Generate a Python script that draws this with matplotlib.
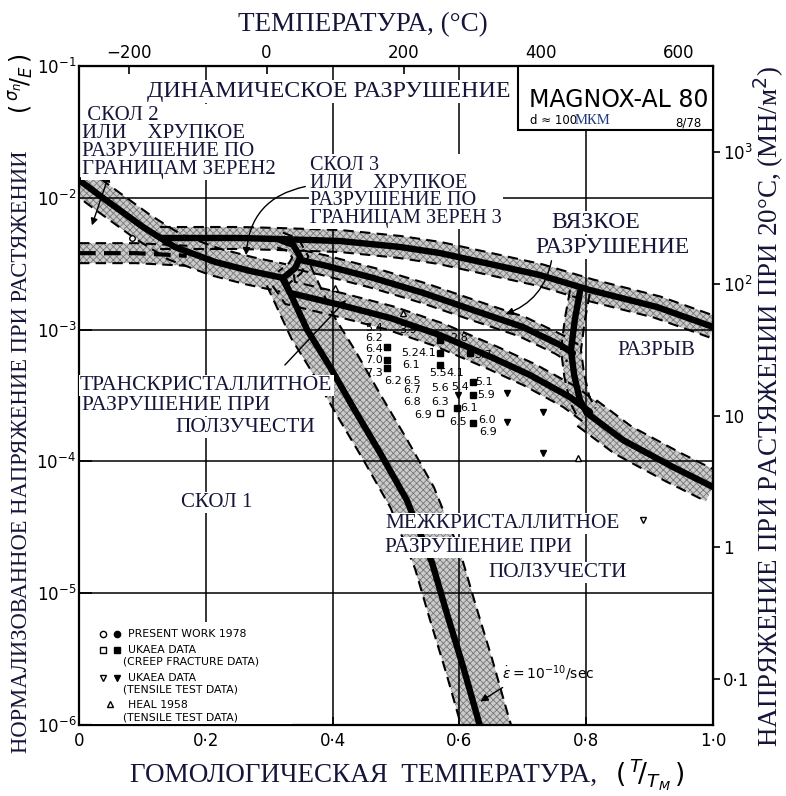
import numpy as np
import matplotlib.pyplot as plt
from matplotlib.patches import Rectangle, FancyArrowPatch
from matplotlib.ticker import NullLocator

W, H = 786, 796
T_MELT = 923.0      # K, Magnox Al 80
E_MOD = 45000.0     # MN/m^2 at 20 C

# mechanism boundaries: T/Tm and log10(sigma_n/E)
cl1_t = [0.0, 0.09, 0.17]
cl1_s = [-2.42, -2.42, -2.44]

cl2_t = [0.0, 0.038, 0.101, 0.151, 0.215, 0.270, 0.322]
cl2_s = [-1.865, -2.002, -2.222, -2.373, -2.487, -2.555, -2.608]

top_t = [0.128, 0.191, 0.254, 0.317, 0.412, 0.506, 0.569, 0.648, 0.727, 0.806, 0.912, 1.0]
top_s = [-2.305, -2.305, -2.305, -2.313, -2.328, -2.373, -2.419, -2.502, -2.586, -2.700, -2.829, -2.980]

loop_t = [0.317, 0.338, 0.349, 0.341, 0.322]
loop_s = [-2.320, -2.358, -2.449, -2.533, -2.608]

duct_t = [0.349, 0.385, 0.464, 0.543, 0.621, 0.700, 0.759, 0.779]
duct_s = [-2.472, -2.510, -2.608, -2.722, -2.851, -2.980, -3.117, -3.178]

tgc_t = [0.322, 0.333, 0.412, 0.491, 0.569, 0.653, 0.711, 0.774, 0.806]
tgc_s = [-2.624, -2.722, -2.813, -2.912, -3.041, -3.215, -3.344, -3.511, -3.625]

rup_t = [0.790, 0.782, 0.776, 0.781, 0.790, 0.801]
rup_s = [-2.715, -2.927, -3.155, -3.344, -3.534, -3.633]

low_t = [0.801, 0.858, 0.937, 1.0]
low_s = [-3.633, -3.838, -4.043, -4.194]

igc_t = [0.322, 0.360, 0.396, 0.432, 0.475, 0.517, 0.557, 0.580, 0.606, 0.632, 0.645]
igc_s = [-2.608, -3.003, -3.284, -3.587, -3.936, -4.293, -4.771, -5.150, -5.560, -6.0, -6.2]

# test data
creep_t = [0.486, 0.486, 0.486, 0.569, 0.569, 0.569, 0.621, 0.621, 0.617, 0.596, 0.621]
creep_s = [-3.132, -3.231, -3.291, -3.178, -3.079, -3.269, -3.398, -3.496, -3.178, -3.595, -3.709]
creep_open_t = [0.569]
creep_open_s = [-3.633]
tens_t = [0.598, 0.675, 0.732, 0.675, 0.732]
tens_s = [-3.496, -3.481, -3.625, -3.701, -3.936]
tens_open_t = [0.890]
tens_open_s = [-4.445]
heal_t = [0.787, 0.404, 0.511]
heal_s = [-3.974, -2.684, -2.874]
present_open_t = [0.084]
present_open_s = [-2.305]

# rupture times written next to the points
lab_txt = ["5.4", "3.9", "6.2", "6.4", "7.0", "7.3", "6.2", "6.5", "5.2", "4.1", "6.1", "6.7", "6.8",
           "6.9", "5.5", "4.1", "5.6", "5.4", "6.3", "6.1", "6.5", "6.0", "6.9", "5.1", "5.9", "2.8", "3.7"]
lab_t = [0.465, 0.519, 0.465, 0.465, 0.465, 0.465, 0.495, 0.525, 0.522, 0.549, 0.524, 0.525, 0.525,
         0.543, 0.566, 0.593, 0.569, 0.601, 0.569, 0.615, 0.598, 0.644, 0.645, 0.639, 0.642, 0.599, 0.637]
lab_s = [-2.988, -3.003, -3.064, -3.147, -3.231, -3.329, -3.390, -3.390, -3.178, -3.178, -3.269, -3.458, -3.549,
         -3.648, -3.329, -3.329, -3.443, -3.436, -3.549, -3.595, -3.701, -3.686, -3.777, -3.398, -3.496, -3.064, -3.193]

top_ticks = [-200, 0, 200, 400, 600]
bottom_ticks = [0, 0.2, 0.4, 0.6, 0.8, 1.0]
bottom_labels = ['0', '0·2', '0·4', '0·6', '0·8', '1·0']
right_ticks = [0.1, 1, 10, 100, 1000]
right_labels = ['0·1', '1', '10', r'$10^2$', r'$10^3$']

SERIF = 'Liberation Serif'
RU = '#15153a'

plt.rcParams['hatch.linewidth'] = 0.6

fig = plt.figure(figsize=(W / 100, H / 100), dpi=100)
ax = fig.add_axes([79 / W, 1 - 725 / H, 634 / W, 659 / H])
ax.set_yscale('log')
ax.set_xlim(0, 1)
ax.set_ylim(1e-6, 1e-1)


def fx(px):
    return px / W


def fy(py):
    return 1 - py / H


def band(t, s, w_up, w_dn, center='solid'):
    """Boundary line with a stippled uncertainty band, offsets in pixels."""
    pts = ax.transData.transform(np.column_stack([t, 10.0 ** np.asarray(s)]))
    d = np.gradient(pts, axis=0)
    n = np.column_stack([-d[:, 1], d[:, 0]])
    n /= np.hypot(n[:, 0], n[:, 1])[:, None]
    inv = ax.transData.inverted()
    up = inv.transform(pts + n * w_up)
    dn = inv.transform(pts - n * w_dn)
    poly = np.vstack([up, dn[::-1]])
    ax.fill(poly[:, 0], poly[:, 1], facecolor='#cbcbcb', edgecolor='#777777',
            hatch='xxxxx', linewidth=0, zorder=2)
    for e in (up, dn):
        ax.plot(e[:, 0], e[:, 1], color='black', lw=1.5, dashes=(5, 3), zorder=3)
    if center == 'solid':
        ax.plot(t, 10.0 ** np.asarray(s), color='black', lw=4.6,
                solid_capstyle='round', solid_joinstyle='round', zorder=4)
    else:
        ax.plot(t, 10.0 ** np.asarray(s), color='black', lw=3, dashes=(4, 2), zorder=4)


# grid
for g in [0.2, 0.4, 0.6, 0.8]:
    ax.axvline(g, color='black', lw=1.1, zorder=2.5)
for g in [1e-2, 1e-3, 1e-4, 1e-5]:
    ax.axhline(g, color='black', lw=1.1, zorder=2.5)

band(cl1_t, cl1_s, 10, 10, center='dashed')
band(top_t, top_s, 11, 11)
band(cl2_t, cl2_s, 14, 14)
band(loop_t, loop_s, 8, 8)
band(duct_t, duct_s, 10, 10)
band(tgc_t, tgc_s, 12, 12)
band(rup_t, rup_s, 10, 10)
band(low_t, low_s, 16, 16)
band(igc_t, igc_s, 30, 18)

# data points
p10 = lambda v: 10.0 ** np.asarray(v)
ax.plot(creep_t, p10(creep_s), 's', color='black', ms=5, zorder=5)
ax.plot(creep_open_t, p10(creep_open_s), 's', mfc='white', mec='black', ms=5, zorder=5)
ax.plot(tens_t, p10(tens_s), 'v', color='black', ms=5, zorder=5)
ax.plot(tens_open_t, p10(tens_open_s), 'v', mfc='white', mec='black', ms=5, zorder=5)
ax.plot(heal_t, p10(heal_s), '^', mfc='white', mec='black', ms=4, zorder=5)
ax.plot(present_open_t, p10(present_open_s), 'o', mfc='white', mec='black', ms=4, zorder=5)
for txt, t, s in zip(lab_txt, lab_t, lab_s):
    ax.text(t, 10 ** s, txt, fontsize=8, ha='center', va='center', zorder=6)

# axes, ticks
for sp in ax.spines.values():
    sp.set_linewidth(1.6)
ax.set_xticks(bottom_ticks)
ax.set_xticklabels(bottom_labels)
ax.yaxis.set_minor_locator(NullLocator())
ax.tick_params(axis='x', direction='in', length=6, width=1.2, labelsize=12, pad=5)
ax.tick_params(axis='y', direction='in', length=9, width=1.2, labelsize=12, pad=2)

top = ax.secondary_xaxis('top', functions=(lambda x: x * T_MELT - 273.0,
                                           lambda c: (c + 273.0) / T_MELT))
top.set_xticks(top_ticks)
top.set_xticklabels(['−200', '0', '200', '400', '600'])
top.tick_params(direction='in', length=6, width=1.2, labelsize=12, pad=3)

right = ax.secondary_yaxis('right', functions=(lambda v: v * E_MOD, lambda p: p / E_MOD))
right.set_yticks(right_ticks)
right.set_yticklabels(right_labels)
right.yaxis.set_minor_locator(NullLocator())
right.tick_params(direction='out', length=5, width=1.2, labelsize=12, pad=2)

# axis titles
fig.text(fx(238), fy(31), 'ТЕМПЕРАТУРА, (°C)', family=SERIF, fontsize=19.5, color=RU,
         ha='left', va='baseline')
fig.text(fx(130), fy(782), 'ГОМОЛОГИЧЕСКАЯ  ТЕМПЕРАТУРА,', family=SERIF, fontsize=19.5, color=RU,
         ha='left', va='baseline')
fig.text(fx(650), fy(775), r'$(\,^{T}\!/_{T_M}\,)$', fontsize=19, color='black', ha='center', va='center')
fig.text(fx(22), fy(753), 'НОРМАЛИЗОВАННОЕ НАПРЯЖЕНИЕ ПРИ РАСТЯЖЕНИИ', family=SERIF, fontsize=16.3,
         color=RU, rotation=90, ha='center', va='bottom')
fig.text(fx(22), fy(84), r'$(\,^{\sigma_n}\!/_{E}\,)$', fontsize=17, color='black', rotation=90,
         ha='center', va='center')
fig.text(fx(769), fy(406), 'НАПРЯЖЕНИЕ ПРИ РАСТЯЖЕНИИ ПРИ 20°С, (МН/м$^2$)', family=SERIF,
         fontsize=19.5, color=RU, rotation=90, ha='center', va='center')

# region labels on white patches (py is the baseline of the last line)
box = dict(facecolor='white', edgecolor='none', pad=1.0)


def label(px, py, s, size, ha='left', ls=1.2):
    fig.text(fx(px), fy(py), s, family=SERIF, fontsize=size, color=RU, ha=ha,
             multialignment='left', linespacing=ls, va='baseline', bbox=box, zorder=6)


label(147, 97, 'ДИНАМИЧЕСКОЕ РАЗРУШЕНИЕ', 17.2)
label(82, 174, ' СКОЛ 2\nИЛИ    ХРУПКОЕ\nРАЗРУШЕНИЕ ПО\nГРАНИЦАМ ЗЕРЕН2', 15, ls=0.94)
label(310, 223, 'СКОЛ 3\nИЛИ    ХРУПКОЕ\nРАЗРУШЕНИЕ ПО\nГРАНИЦАМ ЗЕРЕН 3', 14.6, ls=0.91)
label(596, 228, 'ВЯЗКОЕ', 17, ha='center')
label(612, 253, 'РАЗРУШЕНИЕ', 17, ha='center')
label(617, 355, 'РАЗРЫВ', 15)
label(80, 390, 'ТРАНСКРИСТАЛЛИТНОЕ', 15.5)
label(82, 410, 'РАЗРУШЕНИЕ ПРИ', 15.5)
label(315, 432, 'ПОЛЗУЧЕСТИ', 15.5, ha='right')
label(252, 507, 'СКОЛ 1', 15, ha='right')
label(385, 528, 'МЕЖКРИСТАЛЛИТНОЕ', 15.3)
label(385, 552, 'РАЗРУШЕНИЕ ПРИ', 15.3)
label(627, 577, 'ПОЛЗУЧЕСТИ', 15.3, ha='right')

# material box
fig.add_artist(Rectangle((fx(518), fy(130)), fx(713) - fx(518), fy(66) - fy(130),
                         transform=fig.transFigure, facecolor='white', edgecolor='black', lw=1.5, zorder=6))
fig.text(fx(529), fy(107), 'MAGNOX-AL 80', fontsize=17, ha='left', va='baseline', zorder=7)
fig.text(fx(530), fy(124), 'd ≈ 100', fontsize=8.5, ha='left', va='baseline', zorder=7)
fig.text(fx(575), fy(124), 'МКМ', family=SERIF, fontsize=10.5, color='#1f3a80', ha='left', va='baseline', zorder=7)
fig.text(fx(702), fy(127), '8/78', fontsize=8.5, ha='right', va='baseline', zorder=7)

# arrows
arr = dict(arrowstyle='-|>', color='black', lw=1.0, mutation_scale=11)
fig.add_artist(FancyArrowPatch((fx(110), fy(172)), (fx(91), fy(228)),
                               transform=fig.transFigure, arrowstyle='<|-|>', color='black', lw=1.0,
                               mutation_scale=10, zorder=5))
ax.annotate('', xy=(fx(246), fy(258)), xytext=(fx(308), fy(186)), xycoords='figure fraction',
            arrowprops=dict(arr, connectionstyle='arc3,rad=0.4'), zorder=5)
ax.annotate('', xy=(fx(503), fy(315)), xytext=(fx(552), fy(258)), xycoords='figure fraction',
            arrowprops=dict(arr, connectionstyle='arc3,rad=-0.3'), zorder=5)
ax.annotate('', xy=(fx(348), fy(298)), xytext=(fx(283), fy(367)), xycoords='figure fraction',
            arrowprops=arr, zorder=5)
ax.annotate('', xy=(fx(478), fy(703)), xytext=(fx(505), fy(686)), xycoords='figure fraction',
            arrowprops=arr, zorder=5)
fig.text(fx(548), fy(673), r'$\dot{\epsilon}=10^{-10}$/sec', fontsize=10, ha='center', va='center')

# legend
fig.add_artist(Rectangle((fx(92), fy(724)), fx(292) - fx(92), fy(622) - fy(724),
                         transform=fig.transFigure, facecolor='white', edgecolor='none', zorder=1))
leg_rows = [(634, 'PRESENT WORK 1978', 128), (650, 'UKAEA DATA', 128), (662, '(CREEP FRACTURE DATA)', 123),
            (678, 'UKAEA DATA', 128), (690, '(TENSILE TEST DATA)', 123), (705, 'HEAL 1958', 128),
            (717, '(TENSILE TEST DATA)', 123)]
for py, s, px in leg_rows:
    fig.text(fx(px), fy(py), s, fontsize=7.8, ha='left', va='center', zorder=7)
leg_marks = [(103, 634, 'o', 'white'), (117, 634, 'o', 'black'), (103, 650, 's', 'white'),
             (117, 650, 's', 'black'), (103, 678, 'v', 'white'), (117, 678, 'v', 'black'),
             (110, 704, '^', 'white')]
for px, py, m, fc in leg_marks:
    fig.add_artist(plt.Line2D([fx(px)], [fy(py)], marker=m, mfc=fc, mec='black', ms=4.5,
                              transform=fig.transFigure, zorder=7))

fig.savefig('out.png', dpi=100)
